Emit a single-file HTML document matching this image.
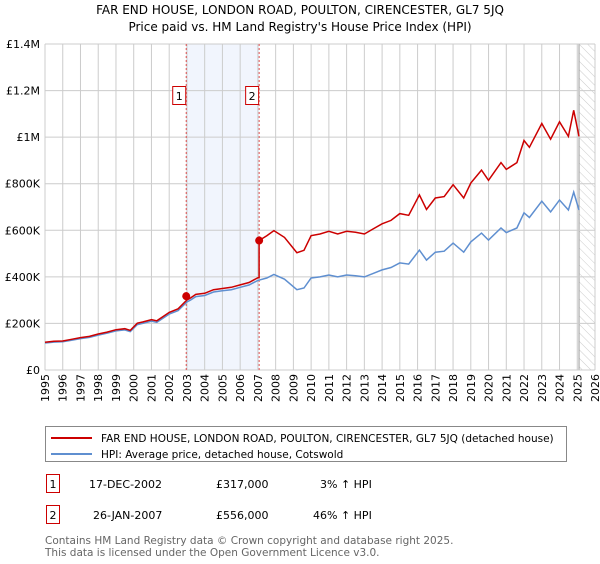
<!DOCTYPE html>
<html><head><meta charset="utf-8"><style>
body{margin:0;background:#fff;font-family:"DejaVu Sans","Liberation Sans",sans-serif;}
svg text{font-family:"DejaVu Sans","Liberation Sans",sans-serif;}
</style></head><body>
<svg id="c" width="600" height="560" viewBox="0 0 600 560" xmlns="http://www.w3.org/2000/svg">
<text x="300" y="14" text-anchor="middle" font-size="12">FAR END HOUSE, LONDON ROAD, POULTON, CIRENCESTER, GL7 5JQ</text>
<text x="300" y="31" text-anchor="middle" font-size="12">Price paid vs. HM Land Registry's House Price Index (HPI)</text>
<g id="grid"></g>
<g id="marks"></g>
<rect x="45.5" y="426.5" width="521" height="35" fill="#fff" stroke="#888"/>
<line x1="51" y1="438" x2="92" y2="438" stroke="#cc0000" stroke-width="2"/>
<text x="101" y="442" font-size="10.5">FAR END HOUSE, LONDON ROAD, POULTON, CIRENCESTER, GL7 5JQ (detached house)</text>
<line x1="51" y1="454" x2="92" y2="454" stroke="#5f8fd0" stroke-width="2"/>
<text x="101" y="458" font-size="10.5">HPI: Average price, detached house, Cotswold</text>
<g font-size="11">
<rect x="46.5" y="474.5" width="13" height="18" fill="#fff" stroke="#cc0000"/>
<text x="53" y="488" text-anchor="middle">1</text>
<text x="89" y="488">17-DEC-2002</text>
<text x="216" y="488">£317,000</text>
<text x="320" y="488">3% ↑ HPI</text>
<rect x="46.5" y="505.5" width="13" height="18" fill="#fff" stroke="#cc0000"/>
<text x="53" y="519" text-anchor="middle">2</text>
<text x="93" y="519">26-JAN-2007</text>
<text x="216" y="519">£556,000</text>
<text x="313" y="519">46% ↑ HPI</text>
</g>
<text x="45" y="544" font-size="10.5" fill="#666">Contains HM Land Registry data © Crown copyright and database right 2025.</text>
<text x="45" y="556" font-size="10.5" fill="#666">This data is licensed under the Open Government Licence v3.0.</text>
</svg>
<script>
const hpiTimes=[1995,1995.5,1996,1996.5,1997,1997.5,1998,1998.5,1999,1999.5,1999.8,2000.2,2000.5,2001,2001.3,2001.7,2002,2002.5,2003,2003.2,2003.5,2004,2004.5,2005,2005.5,2006,2006.5,2007,2007.5,2007.9,2008.5,2009.2,2009.6,2010,2010.5,2011,2011.5,2012,2012.5,2013,2013.5,2014,2014.5,2015,2015.5,2016.1,2016.5,2017,2017.5,2018,2018.6,2019,2019.6,2020,2020.7,2021,2021.6,2022,2022.3,2023,2023.5,2024,2024.5,2024.8,2025.1];
const hpiValues=[116000,120000,121000,128000,135000,140000,150000,158000,168000,172000,165000,195000,200000,210000,205000,225000,240000,255000,292000,300000,315000,320000,335000,340000,345000,355000,365000,385000,395000,410000,390000,345000,352000,395000,400000,408000,400000,408000,405000,400000,415000,430000,440000,460000,455000,515000,472000,506000,510000,545000,506000,550000,588000,558000,610000,590000,610000,675000,655000,725000,679000,730000,687000,764000,687000];
const saleDates=[2002.96,2007.07];
const salePrices=[317000,556000];
const saleRatios=[1.03,1.46];
const yTicks=[0,200000,400000,600000,800000,1000000,1200000,1400000];
const yTickLabels=["£0","£200K","£400K","£600K","£800K","£1M","£1.2M","£1.4M"];
const xTicks=[1995,1996,1997,1998,1999,2000,2001,2002,2003,2004,2005,2006,2007,2008,2009,2010,2011,2012,2013,2014,2015,2016,2017,2018,2019,2020,2021,2022,2023,2024,2025,2026];
const NS="http://www.w3.org/2000/svg";
const L=45,R=595,T=44,B=370,X0=1995,X1=2026,YMAX=1400000;
const xs=t=>L+(t-X0)/(X1-X0)*(R-L);
const ys=v=>B-v/YMAX*(B-T);
function mk(tag,attrs,parent){const e=document.createElementNS(NS,tag);for(const k in attrs)e.setAttribute(k,attrs[k]);parent.appendChild(e);return e;}
const grid=document.getElementById('grid'),marks=document.getElementById('marks');
// shaded ownership period
const sh=mk('rect',{x:xs(saleDates[0]),y:T,width:xs(saleDates[1])-xs(saleDates[0]),height:B-T,fill:'#eef3fc',opacity:0.8},grid);


// hatched future
const defs=mk('defs',{},grid);
const pat=mk('pattern',{id:'h',width:6,height:6,patternUnits:'userSpaceOnUse',patternTransform:'rotate(-45)'},defs);
mk('line',{x1:0,y1:0,x2:0,y2:6,stroke:'#ccc','stroke-width':1},pat);
const lastT=hpiTimes[hpiTimes.length-1];
const hz=mk('rect',{x:xs(lastT),y:T,width:R-xs(lastT),height:B-T,fill:'url(#h)'},grid);


mk('line',{x1:xs(lastT),y1:T,x2:xs(lastT),y2:B,stroke:'#999','stroke-width':1},grid);
yTicks.forEach((v,i)=>{
 const g=mk('line',{x1:L,x2:R,y1:ys(v),y2:ys(v),stroke:'#ccc','stroke-width':1},grid);
 
 
 const t=mk('text',{x:L-5,y:ys(v)+4,'text-anchor':'end','font-size':11},grid);
 t.textContent=yTickLabels[i];
 
 
});
xTicks.forEach(yr=>{
 const x=xs(yr);
 const g=mk('line',{x1:x,x2:x,y1:T,y2:B,stroke:'#ccc','stroke-width':1},grid);
 
 
 const t=mk('text',{x:x+4,y:B+4,'text-anchor':'end','font-size':11,transform:`rotate(-90 ${x+4} ${B+4})`},grid);
 t.textContent=String(yr);
 
 
});
// lines
const hp=hpiTimes.map((t,i)=>(i?'L':'M')+xs(t).toFixed(1)+','+ys(hpiValues[i]).toFixed(1)).join('');
const propVals=hpiTimes.map((t,i)=>hpiValues[i]*(t<saleDates[1]?saleRatios[0]:saleRatios[1]));
let pp='';hpiTimes.forEach((t,i)=>{
 if(i>0&&hpiTimes[i-1]<saleDates[1]&&t>=saleDates[1]){
  const vb=hpiValues[i-1]*saleRatios[0];
  pp+='L'+xs(saleDates[1]).toFixed(1)+','+ys(vb).toFixed(1)+'L'+xs(saleDates[1]).toFixed(1)+','+ys(salePrices[1]).toFixed(1);
 }
 pp+=(i?'L':'M')+xs(t).toFixed(1)+','+ys(propVals[i]).toFixed(1);
});
saleDates.forEach((d,i)=>{
 const l=mk('line',{x1:xs(d),x2:xs(d),y1:T,y2:B,stroke:'#e05050','stroke-width':1,'stroke-dasharray':'2,2'},marks);
 
 
});
const bl=mk('path',{d:hp,fill:'none',stroke:'#5f8fd0','stroke-width':1.5},marks);


const rl=mk('path',{d:pp,fill:'none',stroke:'#cc0000','stroke-width':1.5},marks);


saleDates.forEach((d,i)=>{
 const c=mk('circle',{cx:xs(d),cy:ys(salePrices[i]),r:4,fill:'#cc0000'},marks);
 
 
 const b=mk('rect',{x:xs(d)-13.5,y:86.5,width:13,height:18,fill:'#fff',stroke:'#cc0000'},marks);
 
 
 const t=mk('text',{x:xs(d)-7,y:100,'text-anchor':'middle','font-size':11},marks);
 t.textContent=String(i+1);
 
 
});
</script>
</body></html>
